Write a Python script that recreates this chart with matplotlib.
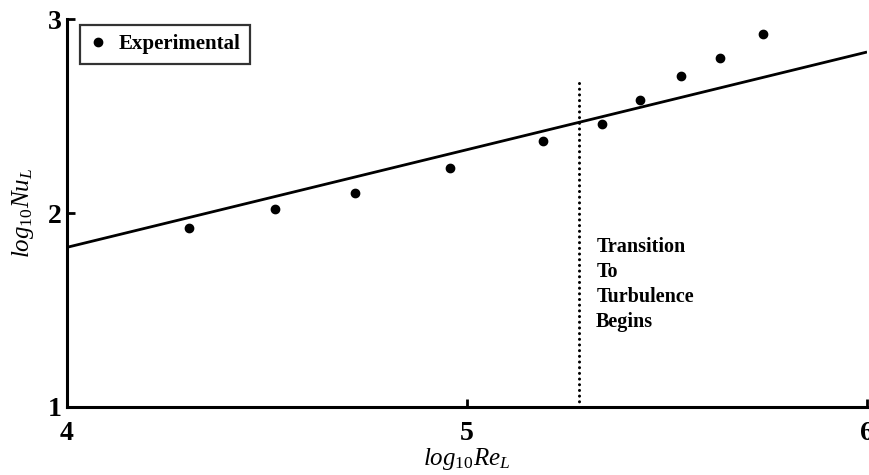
import matplotlib
matplotlib.use("Agg")
import matplotlib.pyplot as plt

# Experimental heat-transfer data (log10 Re_L, log10 Nu_L)
log_re = [4.304, 4.521, 4.719, 4.957, 5.191, 5.338, 5.432, 5.536, 5.632, 5.739]
log_nu = [1.924, 2.020, 2.105, 2.235, 2.373, 2.459, 2.584, 2.708, 2.801, 2.923]

# Laminar correlation line end points
fit_x = [4.0, 6.0]
fit_y = [1.824, 2.832]

# Onset of transition
transition_x = 5.28
transition_top = 2.70

x_ticks = [4, 5, 6]
y_ticks = [1, 2, 3]

serif_bold = dict(family="Liberation Serif", weight="bold")
plt.rcParams["mathtext.fontset"] = "custom"
plt.rcParams["mathtext.it"] = "Liberation Serif:italic"
plt.rcParams["mathtext.rm"] = "Liberation Serif"

fig = plt.figure(figsize=(8.69, 4.75), dpi=100)
ax = fig.add_axes([0.0771, 0.1432, 0.9206, 0.8158])

ax.plot(fit_x, fit_y, color="black", lw=2.0, solid_capstyle="butt")
ax.plot(log_re, log_nu, "o", color="black", markersize=6, label="Experimental")
ax.plot([transition_x, transition_x], [1.0, transition_top], color="black",
        lw=2.2, linestyle=(0, (0.01, 1.85)), dash_capstyle="round")

ax.text(5.323, 1.875, "Transition\nTo\nTurbulence\nBegins", fontsize=14.5,
        linespacing=1.32, va="top", ha="left", **serif_bold)

ax.set_xlim(4, 6)
ax.set_ylim(1, 3)
ax.set_xticks(x_ticks)
ax.set_yticks(y_ticks)
ax.set_xticklabels([str(t) for t in x_ticks], fontsize=20, **serif_bold)
ax.set_yticklabels([str(t) for t in y_ticks], fontsize=20, **serif_bold)
ax.tick_params(direction="in", length=6, width=2, pad=4)
ax.tick_params(axis="x", pad=10)

for side in ("top", "right"):
    ax.spines[side].set_visible(False)
for side in ("left", "bottom"):
    ax.spines[side].set_linewidth(2.2)

ax.set_xlabel(r"$\mathit{log}_{\mathit{10}}\mathit{Re}_{\mathit{L}}$", fontsize=18, labelpad=0)
ax.set_ylabel(r"$\mathit{log}_{\mathit{10}}\mathit{Nu}_{\mathit{L}}$", fontsize=18, labelpad=8)

leg = ax.legend(loc="upper left", bbox_to_anchor=(0.016, 0.986), borderaxespad=0,
                frameon=True, fancybox=False, handlelength=0.8, handletextpad=0.6,
                borderpad=0.45, prop=dict(family="Liberation Serif", weight="bold", size=15))
leg.get_frame().set_edgecolor("black")
leg.get_frame().set_linewidth(1.6)

fig.savefig("out.png", dpi=100)
